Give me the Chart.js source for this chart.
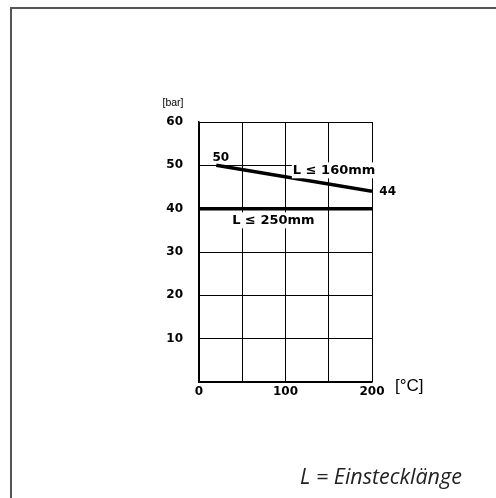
<!DOCTYPE html>
<html>
<head>
<meta charset="utf-8">
<script src="https://cdn.jsdelivr.net/npm/chart.js@4.4.1/dist/chart.umd.min.js"></script>
<style>
  html, body { margin: 0; padding: 0; background: #fff; }
  body { width: 496px; height: 498px; position: relative; overflow: hidden; }
  #frame { position: absolute; left: 10px; top: 7px; width: 500px; height: 500px;
           border-left: 2px solid #555; border-top: 2px solid #555; box-sizing: border-box; }
  #wrap { position: absolute; left: 0; top: 0; width: 496px; height: 498px; }
  #note { position: absolute; left: 300px; top: 461px; font-family: "Open Sans", sans-serif;
          font-style: italic; font-size: 21.5px; color: #222; white-space: nowrap; }
</style>
</head>
<body>
<div id="frame"></div>
<div id="wrap"><canvas id="c" width="496" height="498"></canvas></div>
<div id="note">L = Einstecklänge</div>
<script>
// ---- data ----
const temps160 = [20, 200];
const bar160 = [50, 44];
const temps250 = [0, 200];
const bar250 = [40, 40];
const xTickLabels = [0, 100, 200];
const yTickLabels = [10, 20, 30, 40, 50, 60];
const seriesNames = ['L \u2264 160mm', 'L \u2264 250mm'];

const tickFont = { family: 'DejaVu Sans', size: 12, weight: 'bold' };

// annotation texts placed in data coordinates
const annotations = [
  { text: seriesNames[0], x: 108.5, y: 48.85, align: 'left', bg: true, size: 13 },
  { text: seriesNames[1], x: 86, y: 37.3, align: 'center', bg: true, size: 13 },
  { text: String(bar160[0]), x: 15.5, y: 51.8, align: 'left', bg: false, size: 12 },
  { text: String(bar160[1]), x: 208.5, y: 43.8, align: 'left', bg: false, size: 12 }
];

const labelPlugin = {
  id: 'labels',
  afterDraw(chart) {
    const ctx = chart.ctx;
    const xs = chart.scales.x, ys = chart.scales.y;
    const area = chart.chartArea;
    ctx.save();
    ctx.textBaseline = 'middle';
    annotations.forEach(a => {
      ctx.font = 'bold ' + a.size + 'px "DejaVu Sans"';
      const px = xs.getPixelForValue(a.x);
      const py = ys.getPixelForValue(a.y);
      const w = ctx.measureText(a.text).width;
      const left = a.align === 'center' ? px - w / 2 : px;
      if (a.bg) {
        ctx.fillStyle = '#fff';
        ctx.fillRect(left - 1, py - 8, w + 2, 16);
      }
      ctx.fillStyle = '#000';
      ctx.textAlign = 'left';
      ctx.fillText(a.text, left, py);
    });
    // axis unit labels
    ctx.font = '10.5px "Liberation Sans"';
    ctx.textAlign = 'center';
    ctx.fillText('[bar]', area.left - 26, area.top - 19);
    ctx.font = '17px "Liberation Sans"';
    ctx.textAlign = 'left';
    ctx.fillText('[\u00B0C]', area.right + 23, area.bottom + 4.5);
    ctx.restore();
  }
};

new Chart(document.getElementById('c'), {
  type: 'scatter',
  data: {
    datasets: [
      {
        label: seriesNames[0],
        data: temps160.map((t, i) => ({ x: t, y: bar160[i] })),
        showLine: true, borderColor: '#000', borderWidth: 3.5, pointRadius: 0, fill: false
      },
      {
        label: seriesNames[1],
        data: temps250.map((t, i) => ({ x: t, y: bar250[i] })),
        showLine: true, borderColor: '#000', borderWidth: 3.5, pointRadius: 0, fill: false
      }
    ]
  },
  options: {
    responsive: false,
    animation: false,
    events: [],
    layout: { padding: { left: 150, top: 122, right: 124, bottom: 96 } },
    plugins: { legend: { display: false }, tooltip: { enabled: false }, title: { display: false } },
    scales: {
      x: {
        type: 'linear', min: 0, max: 200,
        afterFit(s) { s.height = 20; },
        ticks: {
          stepSize: 50, padding: 3, color: '#000', font: tickFont, maxRotation: 0,
          callback: v => xTickLabels.includes(v) ? String(v) : ''
        },
        grid: { color: '#000', lineWidth: 1, drawTicks: false },
        border: { color: '#000', width: 1.5 }
      },
      y: {
        type: 'linear', min: 0, max: 60,
        afterFit(s) { s.width = 49; },
        ticks: {
          stepSize: 10, padding: 16, color: '#000', font: tickFont,
          callback: v => yTickLabels.includes(v) ? String(v) : ''
        },
        grid: { color: '#000', lineWidth: 1, drawTicks: false },
        border: { color: '#000', width: 1.5 }
      }
    }
  },
  plugins: [labelPlugin]
});
</script>
</body>
</html>
